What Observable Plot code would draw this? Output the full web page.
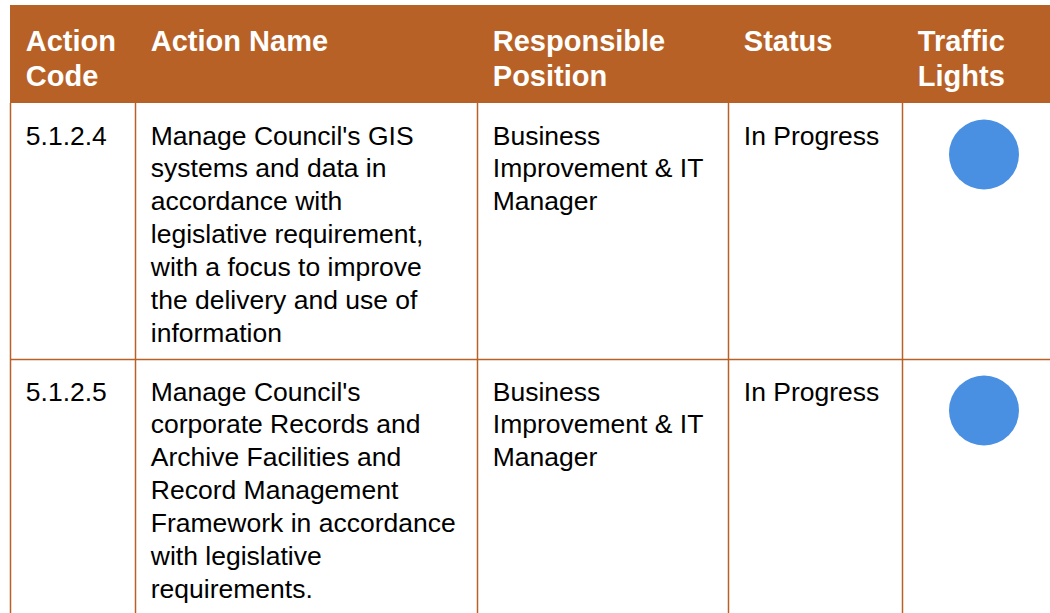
<!DOCTYPE html>
<html>
<head>
<meta charset="utf-8">
<script src="https://cdn.jsdelivr.net/npm/d3@7"></script>
<script src="https://cdn.jsdelivr.net/npm/@observablehq/plot@0.6"></script>
<style>
  html, body { margin: 0; padding: 0; background: #fff; }
  #chart svg { display: block; }
</style>
</head>
<body>
<div id="chart"></div>
<script>
// ---- Data ----
const headers = ["Action\nCode", "Action Name", "Responsible\nPosition", "Status", "Traffic\nLights"];
const codes = ["5.1.2.4", "5.1.2.5"];
const actionNames = [
  "Manage Council's GIS\nsystems and data in\naccordance with\nlegislative requirement,\nwith a focus to improve\nthe delivery and use of\ninformation",
  "Manage Council's\ncorporate Records and\nArchive Facilities and\nRecord Management\nFramework in accordance\nwith legislative\nrequirements."
];
const positions = ["Business\nImprovement & IT\nManager", "Business\nImprovement & IT\nManager"];
const statuses = ["In Progress", "In Progress"];
const lights = ["Blue", "Blue"];

// ---- Layout ----
const W = 1050, H = 613;
const colEdges = [10, 135, 477, 728, 902, 1060];
const tableTop = 5, headerBottom = 103;
const rowTops = [103, 359];
const padX = 15.3;
const orange = "#B86126";
const lightColor = {Blue: "#4A90E2"};
const FONT = "'Liberation Sans', Arial, Helvetica, sans-serif";

const headerData = headers.map((h, i) => ({text: h, x: colEdges[i] + padX}));
const cells = [];
codes.forEach((c, r) => {
  const row = [c, actionNames[r], positions[r], statuses[r]];
  row.forEach((t, i) => cells.push({text: t, x: colEdges[i] + padX, row: r}));
});
const dots = lights.map((l, r) => ({light: l, row: r}));

const bodyFont = 26.5, bodyLH = 33;
const headFont = 29, headLH = 36;

const plot = Plot.plot({
  width: W, height: H,
  margin: 0,
  x: {domain: [0, W], range: [0, W], axis: null},
  y: {domain: [0, H], range: [0, H], axis: null},
  style: {background: "#fff", overflow: "visible", fontFamily: FONT},
  marks: [
    Plot.rect([0], {x1: colEdges[0], x2: colEdges[colEdges.length - 1], y1: tableTop, y2: headerBottom, fill: orange}),
    Plot.ruleX(colEdges.slice(0, 5), {x: d => d, y1: headerBottom, y2: H + 20, stroke: orange, strokeWidth: 1.5}),
    Plot.ruleY(rowTops.slice(1), {y: d => d, x1: colEdges[0], x2: W + 10, stroke: orange, strokeWidth: 1.5}),
    Plot.text(headerData, {
      x: "x", y: () => 50 - 0.71 * headLH, text: "text",
      textAnchor: "start", lineAnchor: "top",
      fontSize: headFont, fontWeight: "bold", fill: "#fff", fontFamily: FONT,
      lineHeight: headLH / headFont
    }),
    Plot.text(cells, {
      x: "x", y: d => rowTops[d.row] + 41 - 0.71 * bodyLH, text: "text",
      textAnchor: "start", lineAnchor: "top",
      fontSize: bodyFont, fill: "#000", fontFamily: FONT,
      lineHeight: bodyLH / bodyFont
    }),
    Plot.dot(dots, {
      x: () => 983.5, y: d => rowTops[d.row] + 51,
      r: 35, fill: d => lightColor[d.light], stroke: null
    })
  ]
});
document.getElementById("chart").appendChild(plot);
</script>
</body>
</html>
